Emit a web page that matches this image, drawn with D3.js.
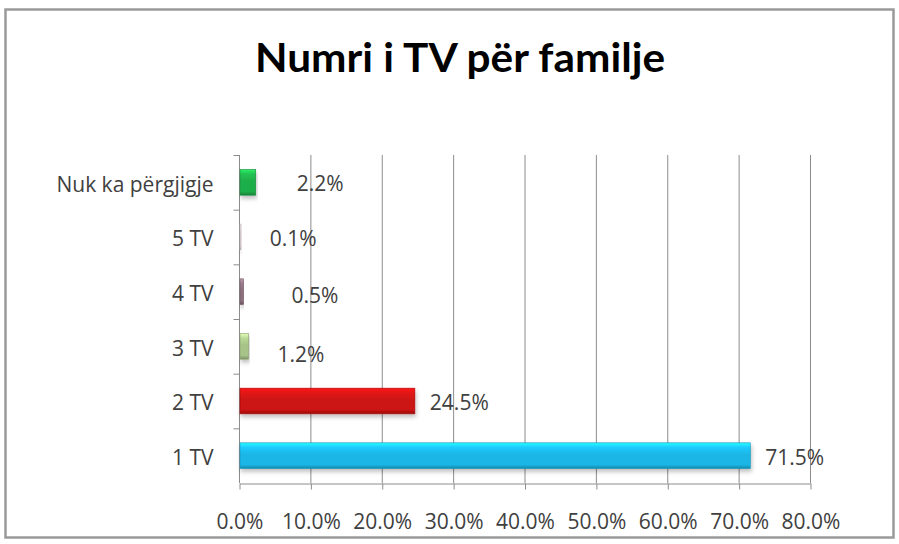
<!DOCTYPE html>
<html>
<head>
<meta charset="utf-8">
<script src="https://cdn.jsdelivr.net/npm/d3@7"></script>
<style>
  body { margin: 0; background: #fff; }
  svg { display: block; }
</style>
</head>
<body>
<svg id="chart"></svg>
<script>
"use strict";

// data
const categories = ["Nuk ka përgjigje", "5 TV", "4 TV", "3 TV", "2 TV", "1 TV"];
const values = [2.2, 0.1, 0.5, 1.2, 24.5, 71.5];
const barColors = ["#1fae4a", "#e8d8dc", "#8c6f7e", "#a7c388", "#cc1212", "#1bb6e6"];
const xTicks = [0, 10, 20, 30, 40, 50, 60, 70, 80];
const title = "Numri i TV për familje";

// the small labels were dragged by hand in the original, keep that nudge
const labelNudge = { "Nuk ka përgjigje": [42, 1], "5 TV": [30, 2], "4 TV": [49, 4], "3 TV": [30, 8] };

const width = 899;
const height = 544;
const marginTop = 155;
const marginRight = 89;
const marginBottom = 61;
const marginLeft = 239;
const font = "'Open Sans', Lato, sans-serif";

const svg = d3.select("#chart")
    .attr("width", width)
    .attr("height", height)
    .attr("viewBox", [0, 0, width, height]);

const defs = svg.append("defs");

// soft shadow under the bars
const shadow = defs.append("filter")
    .attr("id", "shadow")
    .attr("x", "-5%").attr("y", "-20%")
    .attr("width", "115%").attr("height", "160%");
shadow.append("feDropShadow")
    .attr("dx", 1).attr("dy", 3)
    .attr("stdDeviation", 2)
    .attr("flood-color", "#000")
    .attr("flood-opacity", 0.25);

// glossy vertical gradient per bar colour
barColors.forEach((c, i) => {
    const g = defs.append("linearGradient")
        .attr("id", "grad" + i)
        .attr("x1", 0).attr("y1", 0).attr("x2", 0).attr("y2", 1);
    g.append("stop").attr("offset", "0%").attr("stop-color", d3.color(c).brighter(0.9));
    g.append("stop").attr("offset", "18%").attr("stop-color", d3.color(c).brighter(0.3));
    g.append("stop").attr("offset", "45%").attr("stop-color", c);
    g.append("stop").attr("offset", "85%").attr("stop-color", c);
    g.append("stop").attr("offset", "100%").attr("stop-color", d3.color(c).darker(0.8));
});

// chart frame
svg.append("rect")
    .attr("x", 5.5).attr("y", 9.5)
    .attr("width", 888).attr("height", 528)
    .attr("fill", "#fff")
    .attr("stroke", "#9a9a9a")
    .attr("stroke-width", 2.5);

// title
svg.append("text")
    .attr("x", 460)
    .attr("y", 72)
    .attr("text-anchor", "middle")
    .attr("font-family", "Lato, 'Open Sans', sans-serif")
    .attr("font-weight", "bold")
    .attr("textLength", 410)
    .attr("lengthAdjust", "spacingAndGlyphs")
    .style("font-size", "40px")
    .attr("fill", "#000")
    .text(title);

const x = d3.scaleLinear()
    .domain([0, 80])
    .range([marginLeft, width - marginRight]);

const y = d3.scaleBand()
    .domain(categories)
    .range([marginTop, height - marginBottom])
    .paddingInner(0.53)
    .paddingOuter(0.265);

const yBand = d3.scaleBand()
    .domain(categories)
    .range([marginTop, height - marginBottom]);

// vertical gridlines
svg.append("g")
    .selectAll("line")
    .data(xTicks.slice(1))
    .join("line")
    .attr("x1", d => x(d) + 0.5)
    .attr("x2", d => x(d) + 0.5)
    .attr("y1", marginTop)
    .attr("y2", height - marginBottom)
    .attr("stroke", "#8c8c8c")
    .attr("stroke-width", 1);

// x axis
svg.append("g")
    .attr("transform", `translate(0.5,${height - marginBottom + 0.5})`)
    .call(d3.axisBottom(x).tickValues(xTicks).tickFormat(d => d.toFixed(1) + "%").tickSize(6).tickSizeOuter(0).tickPadding(25))
    .call(g => g.select(".domain").attr("stroke", "#8c8c8c"))
    .call(g => g.selectAll(".tick line").attr("stroke", "#8c8c8c"))
    .call(g => g.selectAll(".tick text")
        .attr("fill", "#404040")
        .attr("font-family", font)
        .style("font-size", "21px"));

// y axis, ticks between categories
svg.append("g")
    .attr("transform", `translate(${marginLeft + 0.5},0)`)
    .call(g => g.append("line")
        .attr("y1", marginTop).attr("y2", height - marginBottom)
        .attr("stroke", "#8c8c8c"))
    .call(g => g.selectAll(".sep")
        .data(categories)
        .join("line")
        .attr("class", "sep")
        .attr("x1", -6).attr("x2", 0)
        .attr("y1", d => yBand(d) + 0.5)
        .attr("y2", d => yBand(d) + 0.5)
        .attr("stroke", "#8c8c8c"))
    .call(g => g.selectAll("text")
        .data(categories)
        .join("text")
        .attr("x", -26)
        .attr("y", d => yBand(d) + yBand.bandwidth() / 2 + 2)
        .attr("dy", "0.35em")
        .attr("text-anchor", "end")
        .attr("fill", "#404040")
        .attr("font-family", font)
        .style("font-size", "21px")
        .text(d => d));

// bars
svg.append("g")
    .selectAll("rect")
    .data(values)
    .join("rect")
    .attr("x", x(0) + 1)
    .attr("y", (d, i) => y(categories[i]))
    .attr("width", d => Math.max(1, x(d) - x(0)))
    .attr("height", y.bandwidth())
    .attr("fill", (d, i) => `url(#grad${i})`)
    .attr("stroke", (d, i) => d3.color(barColors[i]).darker(0.6))
    .attr("stroke-width", 0.6)
    .attr("filter", "url(#shadow)");

// value labels
svg.append("g")
    .selectAll("text")
    .data(values)
    .join("text")
    .attr("x", (d, i) => x(d) + (labelNudge[categories[i]] || [16, 2])[0])
    .attr("y", (d, i) => yBand(categories[i]) + yBand.bandwidth() / 2 + (labelNudge[categories[i]] || [16, 2])[1])
    .attr("dy", "0.35em")
    .attr("fill", "#404040")
    .attr("font-family", font)
    .style("font-size", "21px")
    .text(d => d.toFixed(1) + "%");
</script>
</body>
</html>
